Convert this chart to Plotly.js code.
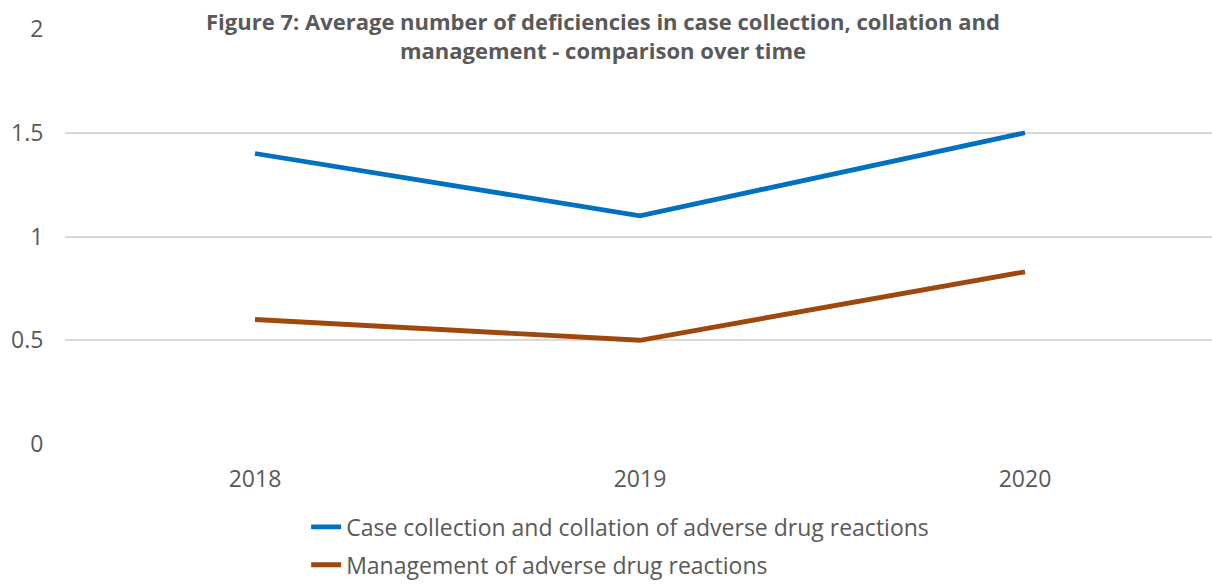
<!DOCTYPE html>
<html>
<head>
<meta charset="utf-8">
<script src="https://cdn.plot.ly/plotly-3.0.1.min.js"></script>
<style>
  html, body { margin: 0; padding: 0; background: #fff; }
  #chart { width: 1212px; height: 584px; }
</style>
</head>
<body>
<div id="chart"></div>
<script>
// Years shown along the x axis
const years = ['2018', '2019', '2020'];

// Average number of deficiencies per inspection
const caseCollection = [1.4, 1.1, 1.5];
const management = [0.6, 0.5, 0.83];

const seriesNames = [
  'Case collection and collation of adverse drug reactions',
  'Management of adverse drug reactions'
];

const yTicks = [0, 0.5, 1, 1.5, 2];
const yTickText = ['0', '0.5', '1', '1.5', '2'];

const textGrey = '#595959';
const fontFamily = '"Open Sans", "Liberation Sans", sans-serif';

const traces = [
  {
    x: years, y: caseCollection, name: seriesNames[0], type: 'scatter', mode: 'lines',
    line: { color: '#0070C0', width: 4.8 }, legendgroup: 'a', hoverinfo: 'x+y'
  },
  {
    x: years, y: management, name: seriesNames[1], type: 'scatter', mode: 'lines',
    line: { color: '#9E480E', width: 4.8 }, legendgroup: 'b', hoverinfo: 'x+y'
  }
];

const layout = {
  width: 1212, height: 584,
  paper_bgcolor: '#fff', plot_bgcolor: '#fff',
  margin: { l: 65, r: 0, t: 29, b: 140, autoexpand: false },
  font: { family: fontFamily, color: textGrey, size: 22 },
  title: {
    text: '<b>Figure 7: Average number of deficiencies in case collection, collation and<br>management - comparison over time</b>',
    font: { family: fontFamily, size: 22, color: textGrey },
    x: 0.4975, xanchor: 'center', xref: 'container',
    y: 1 - 30 / 584, yanchor: 'top', yref: 'container'
  },
  xaxis: {
    type: 'category',
    range: [-0.4935, 2.4857],
    showgrid: false, zeroline: false, showline: false,
    ticks: 'outside', ticklen: 14, tickcolor: 'rgba(0,0,0,0)',
    tickfont: { size: 23, color: textGrey }
  },
  yaxis: {
    range: [0, 2],
    tickvals: yTicks, ticktext: yTickText,
    showgrid: true, gridcolor: '#d9d9d9', gridwidth: 1.5,
    zeroline: false, showline: false,
    ticks: 'outside', ticklen: 16, tickcolor: 'rgba(0,0,0,0)',
    tickfont: { size: 23, color: textGrey }
  },
  showlegend: true,
  legend: {
    orientation: 'v', traceorder: 'grouped', tracegroupgap: 5,
    x: 0.484, xanchor: 'center', y: -0.148, yanchor: 'top',
    font: { size: 23, color: textGrey },
    bgcolor: 'rgba(0,0,0,0)'
  }
};

Plotly.newPlot('chart', traces, layout, { displayModeBar: false, responsive: false });
</script>
</body>
</html>
